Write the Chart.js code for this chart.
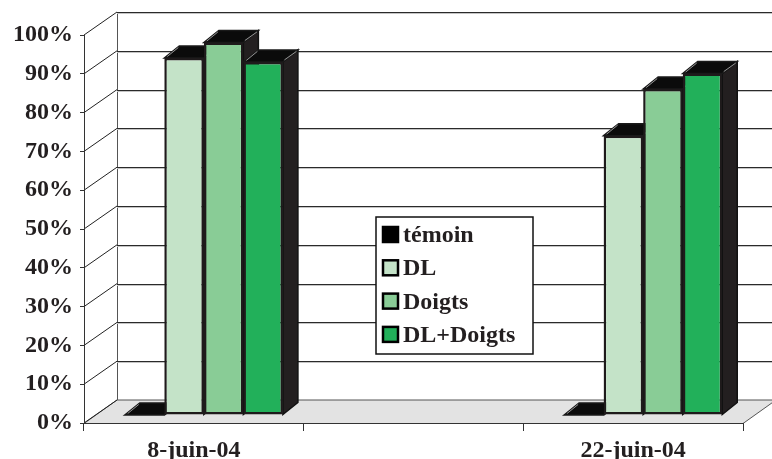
<!DOCTYPE html>
<html>
<head>
<meta charset="utf-8">
<script src="https://cdn.jsdelivr.net/npm/chart.js@4.4.1/dist/chart.umd.min.js"></script>
<style>
  html, body { margin: 0; padding: 0; background: #ffffff; }
  #wrap { width: 772px; height: 459px; }
</style>
</head>
<body>
<div id="wrap"><canvas id="chart" width="772" height="459"></canvas></div>
<script>
// Dates of the two observations (the middle week has no measurement)
const categories = ['8-juin-04', '', '22-juin-04'];
const seriesNames = ['témoin', 'DL', 'Doigts', 'DL+Doigts'];
const temoin   = [0,    null, 0];
const dl       = [0.92, null, 0.72];
const doigts   = [0.96, null, 0.84];
const dlDoigts = [0.91, null, 0.88];
const yTicks = [0, 0.1, 0.2, 0.3, 0.4, 0.5, 0.6, 0.7, 0.8, 0.9, 1];

const seriesColors = ['#000000', '#c4e3c8', '#89cc96', '#22b05a'];
const FONT = '"Liberation Serif", "Times New Roman", serif';
const INK = '#231f20';

// Oblique depth of the box (front axis -> back wall) and of the columns
const WALL = { dx: 33, dy: -23 };
const FACE = { dx: 10, dy: -8 };
const COL  = { dx: 15, dy: -12 };

function poly(ctx, pts, fill, stroke, lw) {
  ctx.beginPath();
  ctx.moveTo(pts[0][0], pts[0][1]);
  for (let i = 1; i < pts.length; i++) ctx.lineTo(pts[i][0], pts[i][1]);
  ctx.closePath();
  if (fill) { ctx.fillStyle = fill; ctx.fill(); }
  if (stroke) { ctx.strokeStyle = stroke; ctx.lineWidth = lw || 1; ctx.stroke(); }
}

// Back wall, floor and the slanted grid of the 3D box
const boxPlugin = {
  id: 'box3d',
  beforeDraw(chart) {
    const ctx = chart.ctx;
    const a = chart.chartArea;
    const y = chart.scales.y;
    ctx.save();
    ctx.fillStyle = '#ffffff';
    ctx.fillRect(0, 0, chart.width, chart.height);

    // floor
    poly(ctx, [
      [a.left, a.bottom + 0.5], [a.right, a.bottom + 0.5],
      [a.right + WALL.dx, a.bottom + WALL.dy], [a.left + WALL.dx, a.bottom + WALL.dy]
    ], '#e3e3e3', '#555555', 1);

    const bx = a.left + WALL.dx;
    const bxr = a.right + WALL.dx;
    const topY = Math.round(y.getPixelForValue(1) + WALL.dy) + 0.5;
    const botY = a.bottom + WALL.dy;

    // back wall left edge
    ctx.strokeStyle = '#555555';
    ctx.lineWidth = 1;
    ctx.beginPath();
    ctx.moveTo(Math.round(bx) + 0.5, topY);
    ctx.lineTo(Math.round(bx) + 0.5, botY);
    ctx.stroke();

    yTicks.forEach(v => {
      const fy = y.getPixelForValue(v);
      const by = Math.round(fy + WALL.dy) + 0.5;
      // slanted line on the side wall
      ctx.strokeStyle = '#222222';
      ctx.lineWidth = 1;
      ctx.beginPath();
      ctx.moveTo(a.left, fy);
      ctx.lineTo(bx, fy + WALL.dy);
      ctx.stroke();
      if (v === 0) return;
      // gridline on the back wall with its light shadow
      ctx.strokeStyle = '#c4c4c4';
      ctx.beginPath();
      ctx.moveTo(bx, by + 1);
      ctx.lineTo(bxr, by + 1);
      ctx.stroke();
      ctx.strokeStyle = '#2a2a2a';
      ctx.beginPath();
      ctx.moveTo(bx, by);
      ctx.lineTo(bxr, by);
      ctx.stroke();
    });
    ctx.restore();
  }
};

// Top and side faces of each column; the front faces are the bar elements
const columnPlugin = {
  id: 'columns3d',
  beforeDatasetsDraw(chart) {
    const ctx = chart.ctx;
    ctx.save();
    ctx.translate(FACE.dx, FACE.dy);
    chart.data.datasets.forEach((ds, di) => {
      const meta = chart.getDatasetMeta(di);
      meta.data.forEach((bar, i) => {
        if (ds.data[i] === null || ds.data[i] === undefined) return;
        const p = bar.getProps(['x', 'y', 'base', 'width'], true);
        const l = p.x - p.width / 2, r = p.x + p.width / 2;
        const t = p.y, b = p.base;
        // right side
        poly(ctx, [[r, t], [r + COL.dx, t + COL.dy], [r + COL.dx, b + COL.dy], [r, b]],
             INK, '#111111', 1.5);
        // top
        poly(ctx, [[l, t], [l + COL.dx, t + COL.dy], [r + COL.dx, t + COL.dy], [r, t]],
             '#0b0b0b', '#1a1a1a', 1.5);
        // faint highlight on the top edges
        ctx.strokeStyle = 'rgba(200,200,200,0.7)';
        ctx.lineWidth = 1;
        ctx.beginPath();
        ctx.moveTo(l + 3, t - 1.5);
        ctx.lineTo(l + COL.dx - 1, t + COL.dy + 1.5);
        ctx.moveTo(r + 1.5, t - 2);
        ctx.lineTo(r + COL.dx - 1.5, t + COL.dy + 1.5);
        ctx.stroke();
      });
    });
    // keep the shift for the front faces drawn next
  },
  afterDatasetsDraw(chart) {
    chart.ctx.restore();
  }
};

// Boxed legend sitting inside the plot
const legendPlugin = {
  id: 'boxLegend',
  afterDraw(chart, args, opts) {
    const ctx = chart.ctx;
    ctx.save();
    ctx.fillStyle = '#ffffff';
    ctx.fillRect(opts.left, opts.top, opts.width, opts.height);
    ctx.strokeStyle = '#111111';
    ctx.lineWidth = 1.5;
    ctx.strokeRect(opts.left, opts.top, opts.width, opts.height);
    ctx.font = 'bold 24px ' + FONT;
    ctx.textBaseline = 'alphabetic';
    chart.data.datasets.forEach((ds, i) => {
      const base = opts.firstBaseline + i * opts.rowGap;
      ctx.fillStyle = ds.backgroundColor;
      ctx.fillRect(opts.markerX, base - 15, 15, 15);
      ctx.strokeStyle = '#000000';
      ctx.lineWidth = 2.5;
      ctx.strokeRect(opts.markerX, base - 15, 15, 15);
      ctx.fillStyle = INK;
      ctx.fillText(ds.label, opts.textX, base);
    });
    ctx.restore();
  }
};

const seriesValues = [temoin, dl, doigts, dlDoigts];

new Chart(document.getElementById('chart'), {
  type: 'bar',
  data: {
    labels: categories,
    datasets: seriesNames.map((name, i) => ({
      label: name,
      data: seriesValues[i],
      backgroundColor: seriesColors[i],
      borderColor: '#1e1a1b',
      borderWidth: 2.5,
      borderSkipped: false,
      barPercentage: 1,
      categoryPercentage: 0.72,
      clip: false
    }))
  },
  options: {
    responsive: false,
    animation: false,
    devicePixelRatio: 1,
    layout: { padding: { top: 35, right: 29, left: 0, bottom: 0 } },
    plugins: {
      legend: { display: false },
      tooltip: { enabled: false },
      boxLegend: {
        left: 376, top: 217, width: 157, height: 137,
        markerX: 383, textX: 403, firstBaseline: 242, rowGap: 33.3
      }
    },
    scales: {
      x: {
        grid: { drawOnChartArea: false, offset: true, tickLength: 8, color: '#333333' },
        border: { display: true, color: '#333333', width: 1 },
        ticks: {
          autoSkip: false, maxRotation: 0, padding: 5,
          color: INK, font: { family: FONT, size: 24, weight: 'bold' }
        },
        afterFit(s) { s.height = 36; }
      },
      y: {
        min: 0, max: 1,
        afterBuildTicks(s) { s.ticks = yTicks.map(v => ({ value: v })); },
        grid: { drawOnChartArea: false, tickLength: 4, color: '#333333' },
        border: { display: true, color: '#333333', width: 1 },
        ticks: {
          padding: 7, color: INK,
          font: { family: FONT, size: 24, weight: 'bold' },
          callback: v => Math.round(v * 100) + '%'
        },
        afterFit(s) { s.width = 84; }
      }
    }
  },
  plugins: [boxPlugin, columnPlugin, legendPlugin]
});
</script>
</body>
</html>
